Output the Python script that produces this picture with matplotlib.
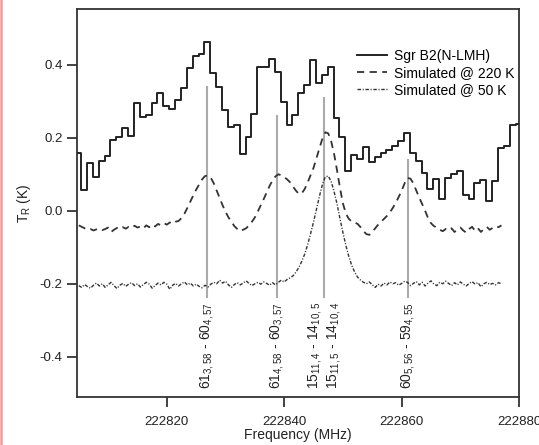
import numpy as np
import matplotlib
matplotlib.use("Agg")
import matplotlib.pyplot as plt
from matplotlib.lines import Line2D

plt.rcParams['font.family'] = ['Liberation Sans', 'DejaVu Sans']
plt.rcParams['mathtext.default'] = 'regular'

# ---- observed spectrum (1 MHz channels, centres) ----
obs_start = 222804.9
obs_values = [0.159, 0.058, 0.131, 0.093, 0.137, 0.150, 0.194, 0.203, 0.227, 0.205,
              0.296, 0.256, 0.262, 0.296, 0.322, 0.287, 0.278, 0.304, 0.336, 0.391,
              0.425, 0.430, 0.461, 0.377, 0.340, 0.276, 0.229, 0.235, 0.155, 0.201,
              0.265, 0.395, 0.395, 0.416, 0.379, 0.299, 0.235, 0.262, 0.322, 0.345,
              0.412, 0.350, 0.372, 0.394, 0.253, 0.203, 0.109, 0.152, 0.141, 0.175,
              0.134, 0.146, 0.159, 0.166, 0.177, 0.192, 0.214, 0.157, 0.136, 0.104,
              0.061, 0.088, 0.031, 0.091, 0.100, 0.108, 0.042, 0.033, 0.076, 0.084,
              0.026, 0.082, 0.171, 0.178, 0.235, 0.238]

# ---- simulated spectra (0.5 MHz sampling) ----
sim_start = 222805.0
sim220_values = [-0.040, -0.044, -0.048, -0.052, -0.050, -0.054, -0.051, -0.049, -0.053, -0.050,
                 -0.046, -0.058, -0.052, -0.047, -0.050, -0.045, -0.049, -0.044, -0.047, -0.041,
                 -0.046, -0.043, -0.048, -0.040, -0.045, -0.038, -0.043, -0.036, -0.040, -0.034,
                 -0.038, -0.032, -0.036, -0.030, -0.028, -0.020, -0.008, 0.008, 0.025, 0.042,
                 0.058, 0.072, 0.086, 0.095, 0.097, 0.090, 0.075, 0.055, 0.035, 0.015,
                 -0.003, -0.018, -0.030, -0.042, -0.050, -0.056, -0.052, -0.048, -0.040, -0.030,
                 -0.018, -0.002, 0.015, 0.032, 0.050, 0.068, 0.083, 0.094, 0.100, 0.097,
                 0.092, 0.086, 0.078, 0.066, 0.055, 0.046, 0.048, 0.060, 0.078, 0.098,
                 0.118, 0.145, 0.172, 0.198, 0.215, 0.212, 0.190, 0.155, 0.110, 0.062,
                 0.020, -0.008, -0.022, -0.030, -0.032, -0.036, -0.045, -0.056, -0.064, -0.066,
                 -0.058, -0.048, -0.038, -0.030, -0.022, -0.014, -0.004, 0.008, 0.022, 0.038,
                 0.055, 0.075, 0.090, 0.088, 0.075, 0.055, 0.036, 0.018, 0.000, -0.020,
                 -0.034, -0.042, -0.046, -0.052, -0.056, -0.050, -0.054, -0.048, -0.058, -0.052,
                 -0.046, -0.054, -0.060, -0.050, -0.044, -0.055, -0.048, -0.058, -0.050, -0.044,
                 -0.052, -0.047, -0.042, -0.045, -0.040]
sim50_values = [-0.205, -0.210, -0.202, -0.208, -0.212, -0.204, -0.198, -0.206, -0.200, -0.210,
                -0.203, -0.196, -0.205, -0.213, -0.204, -0.199, -0.207, -0.201, -0.197, -0.205,
                -0.200, -0.209, -0.202, -0.196, -0.201, -0.212, -0.205, -0.198, -0.203, -0.196,
                -0.201, -0.215, -0.204, -0.199, -0.206, -0.200, -0.195, -0.203, -0.198, -0.206,
                -0.201, -0.207, -0.211, -0.204, -0.209, -0.201, -0.196, -0.200, -0.190, -0.198,
                -0.193, -0.203, -0.210, -0.202, -0.197, -0.203, -0.198, -0.192, -0.199, -0.205,
                -0.200, -0.196, -0.201, -0.195, -0.199, -0.204, -0.197, -0.203, -0.196, -0.190,
                -0.195, -0.188, -0.184, -0.178, -0.168, -0.155, -0.138, -0.118, -0.092, -0.062,
                -0.030, 0.005, 0.040, 0.072, 0.093, 0.095, 0.080, 0.052, 0.018, -0.022,
                -0.060, -0.095, -0.125, -0.150, -0.168, -0.182, -0.190, -0.196, -0.200, -0.195,
                -0.203, -0.210, -0.201, -0.206, -0.198, -0.203, -0.195, -0.200, -0.197, -0.204,
                -0.199, -0.193, -0.196, -0.205, -0.199, -0.194, -0.203, -0.196, -0.206, -0.198,
                -0.192, -0.201, -0.205, -0.196, -0.200, -0.193, -0.199, -0.205, -0.197, -0.203,
                -0.195, -0.201, -0.206, -0.199, -0.194, -0.201, -0.197, -0.208, -0.200, -0.196,
                -0.202, -0.199, -0.203, -0.197, -0.200]

# ---- transition markers ----
line_freqs = [222826.8, 222838.8, 222846.8, 222861.0]
line_tops = [0.34, 0.26, 0.31, 0.14]
line_bottom = -0.235
label_x = [222826.8, 222838.8, 222845.3, 222848.5, 222861.0]
label_texts = ['61$_{3,58}$ - 60$_{4,57}$',
               '61$_{4,58}$ - 60$_{3,57}$',
               '15$_{11,4}$ - 14$_{10,5}$',
               '15$_{11,5}$ - 14$_{10,4}$',
               '60$_{5,56}$ - 59$_{4,55}$']

legend_labels = ['Sgr B2(N-LMH)', 'Simulated @ 220 K', 'Simulated @ 50 K']
x_ticks = [222820, 222840, 222860, 222880]
y_ticks = [-0.4, -0.2, 0.0, 0.2, 0.4]

obs_freq = obs_start + 1.0 * np.arange(len(obs_values))
sim220_freq = sim_start + 0.5 * np.arange(len(sim220_values))
sim50_freq = sim_start + 0.5 * np.arange(len(sim50_values))

fig = plt.figure(figsize=(5.39, 4.45), dpi=100)
ax = fig.add_axes([0.1429, 0.108, 0.8201, 0.872])

for f, top in zip(line_freqs, line_tops):
    ax.plot([f, f], [line_bottom, top], color='#ababab', lw=1.5, zorder=1)

ax.step(obs_freq, obs_values, where='mid', color='#222222', lw=1.4,
        label=legend_labels[0], zorder=3)
ax.plot(sim220_freq, sim220_values, color='#333333', lw=1.3,
        dashes=(4, 3), label=legend_labels[1], zorder=2)
ax.plot(sim50_freq, sim50_values, color='#333333', lw=1.0,
        dashes=(2.5, 1.2, 0.8, 1.2), label=legend_labels[2], zorder=2)

for x, t in zip(label_x, label_texts):
    ax.text(x, -0.25, t, rotation=90, ha='center', va='top', fontsize=10,
            color='#222222')

ax.set_xlim(222804.7, 222880.0)
ax.set_ylim(-0.51, 0.553)
ax.set_xticks(x_ticks)
ax.set_xticklabels([str(v) for v in x_ticks])
ax.set_yticks(y_ticks)
ax.set_yticklabels(['%.1f' % v for v in y_ticks])
ax.tick_params(direction='out', length=7.5, width=1.2, labelsize=9.5,
               colors='#222222', pad=3)
ax.tick_params(axis='x', pad=6.5)
for s in ax.spines.values():
    s.set_linewidth(1.3)
    s.set_color('#333333')

ax.set_xlabel('Frequency (MHz)', fontsize=10, labelpad=0, color='#222222')
ax.set_ylabel('T$_{R}$ (K)', fontsize=10, labelpad=5, color='#222222')

leg = ax.legend(loc='upper left', bbox_to_anchor=(0.62, 0.912), frameon=False,
                fontsize=10, handlelength=2.2, handletextpad=0.5,
                labelspacing=0.22, borderaxespad=0)

fig.add_artist(Line2D([0.002, 0.002], [0, 1], transform=fig.transFigure,
                      color='#f49a9a', lw=1.8))

fig.savefig('out.png', dpi=100)
